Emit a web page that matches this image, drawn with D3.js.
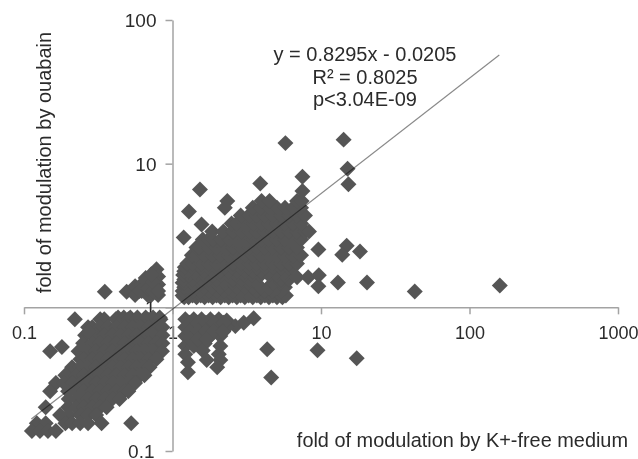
<!DOCTYPE html>
<html><head><meta charset="utf-8">
<script src="https://cdn.jsdelivr.net/npm/d3@7"></script>
<style>html,body{margin:0;background:#fff}svg{display:block;filter:blur(0.5px)}text{font-family:"Liberation Sans",Arial,sans-serif;fill:#2b2b2b}</style>
</head><body><div id="c"></div>
<script>
const xTicks=[0.1,1,10,100,1000];
const yTicks=[0.1,1,10,100];
const equationLines=["y = 0.8295x - 0.0205","R² = 0.8025","p<3.04E-09"];
const xTitle="fold of modulation by K+-free medium";
const yTitle="fold of modulation by ouabain";
const fitX=[0.112,158.7];
const fitY=[0.167,57.1];
// rows of the dense clouds: [fold by ouabain, [folds by K+-free medium]]
const upperRightRows=[
[1.175,[1.2,1.283,1.453,1.645,1.864,2.11,2.39,2.71,3.07,3.47,3.93,4.46,5.05,5.5]],
[1.21,[1.17,1.365,1.55,1.75,1.98,2.25,2.54,2.88,3.26,3.7,4.19,4.74,5.38,5.8]],
[1.3,[1.17,1.365,1.55,1.75,1.98,2.25,2.54,2.88,3.26,3.7,4.19,4.74,5.38]],
[1.38,[1.2,1.283,1.453,1.645,1.864,2.11,2.39,2.71,3.07,3.47,3.93,4.46,5.05,5.72]],
[1.48,[1.17,1.2,1.365,1.55,1.75,1.98,2.25,2.54,2.88,3.26,4.74,5.38]],
[1.565,[1.2,1.365,1.55,1.75,1.98,2.25,2.54,2.88,3.26,3.55,5.38,6.09]],
[1.68,[1.18,1.283,1.453,1.645,1.864,2.11,2.39,2.71,3.07,3.47,3.93,4.46,5.05,5.72]],
[1.78,[1.2,1.283,1.453,1.645,1.864,2.11,2.39,2.71,3.07,3.47,3.93,4.46,5.05,5.72]],
[1.9,[1.21,1.365,1.55,1.75,1.98,2.25,2.54,2.88,3.26,3.7,4.19,4.74,5.38,6.09,6.4]],
[2.02,[1.26,1.365,1.55,1.75,1.98,2.25,2.54,2.88,3.26,3.7,4.19,4.74,5.38,6.09,6.89]],
[2.3,[1.35,1.453,1.645,1.864,2.11,2.39,2.71,3.07,3.47,3.93,4.46,5.05,5.72,6.48,7.34]],
[2.61,[1.45,1.5,1.75,1.98,2.25,2.54,2.88,3.26,3.7,4.19,4.74,5.38,6.09,6.89]],
[2.97,[1.6,1.75,1.864,2.11,2.39,2.71,3.07,3.47,3.93,4.46,5.05,5.72,6.2,7.34]],
[3.37,[1.85,2.2,2.54,2.88,3.26,3.7,4.19,4.74,5.38,6.09,6.89,7.8,8.3]],
[3.83,[2.5,2.7,3.07,3.47,3.93,4.46,5.05,5.72,6.48,7.34]],
[4.35,[2.88,3.26,3.7,4.19,4.74,5.38,6.09,6.89,7.8]],
[4.94,[2.25,3.47,3.93,4.46,5.05,5.72,6.48,7.34]],
[5.5,[2.34,3.98,4.5,6.9,7.4]]
];
const lowerLeftRows=[
[0.85,[0.43,0.47,0.52,0.58,0.66,0.74,0.82]],
[0.825,[0.326,0.347,0.415,0.466,0.504,0.571,0.647,0.733,0.83]],
[0.726,[0.27,0.288,0.326,0.369,0.418,0.474,0.537,0.608,0.688,0.78,0.855]],
[0.639,[0.258,0.306,0.347,0.393,0.445,0.504,0.571,0.647,0.733,0.855]],
[0.562,[0.25,0.288,0.326,0.369,0.418,0.474,0.537,0.608,0.688,0.78,0.855]],
[0.495,[0.15,0.233,0.27,0.306,0.347,0.393,0.445,0.504,0.571,0.647,0.733,0.85]],
[0.436,[0.24,0.254,0.288,0.326,0.369,0.418,0.474,0.537,0.608,0.688,0.78]],
[0.383,[0.211,0.239,0.27,0.306,0.347,0.393,0.445,0.504,0.571,0.647,0.7]],
[0.337,[0.19,0.224,0.254,0.288,0.326,0.369,0.418,0.474,0.537,0.608,0.647]],
[0.297,[0.164,0.186,0.211,0.239,0.27,0.306,0.347,0.393,0.445,0.504,0.56]],
[0.261,[0.15,0.198,0.224,0.254,0.288,0.326,0.369,0.418,0.474,0.504]],
[0.23,[0.2,0.23,0.27,0.306,0.347,0.393,0.44]],
[0.202,[0.14,0.198,0.224,0.254,0.288,0.326,0.36]],
[0.178,[0.175,0.2,0.239,0.27,0.306]],
[0.156,[0.122,0.14,0.19,0.211,0.239,0.27,0.333,0.527]],
[0.138,[0.113,0.128,0.145,0.164]]
];
// separately read points
const scatterX=[0.35,0.491,0.56,0.56,0.62,0.68,0.66,0.72,0.78,0.8,0.8,0.8,0.72,0.6,0.62,0.68,0.74,0.74,0.8,0.72,
 0.22,0.18,0.275,
 1.22,1.39,1.57,1.8,2.05,2.32,2.65,3.02,3.52,1.22,1.39,1.57,1.8,2.05,2.32,1.22,1.39,1.57,1.8,2.1,1.22,1.39,1.65,2.1,1.22,1.6,2.05,1.27,1.7,2.1,1.27,2.0,4.34,4.62,9.47,17.4,
 1.3,1.48,1.68,1.9,2.2,1.3,1.48,1.68,1.9,2.2,1.3,1.48,1.7,
 5.76,14.2,15.1,15.3,3.9,7.5,1.53,1.29,1.19,1.57,7.5,14.9,18.3,13.9,9.6,6.9,8.2,9.67,9.6,13,20.4,42.8,160];
const scatterY=[1.285,1.285,1.4,1.22,1.45,1.22,1.6,1.4,1.84,1.64,1.44,1.22,1.22,1.3,1.3,1.35,1.3,1.5,1.3,1.7,
 0.825,0.53,0.68,
 0.825,0.825,0.825,0.825,0.825,0.81,0.74,0.78,0.84,0.726,0.726,0.726,0.726,0.726,0.726,0.632,0.632,0.632,0.632,0.632,0.538,0.538,0.56,0.538,0.472,0.5,0.472,0.414,0.43,0.43,0.353,0.383,0.51,0.325,0.503,0.442,
 0.78,0.78,0.78,0.78,0.78,0.68,0.68,0.68,0.68,0.68,0.6,0.6,0.6,
 13.9,14.7,9.2,7.2,7.27,8.1,6.6,4.64,3.06,3.77,6.46,2.68,2.45,2.32,2.53,1.62,1.62,1.67,1.4,1.49,1.49,1.29,1.42];

const W=638,H=459;
const x=d3.scaleLog().domain([0.1,1000]).range([24,618]);
const y=d3.scaleLog().domain([0.1,100]).range([451,20]);
const svg=d3.select("#c").append("svg").attr("width",W).attr("height",H);

const pts=[];
[upperRightRows,lowerLeftRows].forEach(rows=>rows.forEach(([v,xs])=>xs.forEach(u=>pts.push([u,v]))));
scatterX.forEach((u,i)=>pts.push([u,scatterY[i]]));

const grey="#a3a3a3";
const fmt=d=>String(d);
const ax=svg.append("g").attr("transform",`translate(0,${y(1)})`)
 .call(d3.axisBottom(x).tickValues(xTicks).tickFormat(fmt).tickSize(7).tickSizeOuter(0));
const ay=svg.append("g").attr("transform",`translate(${x(1)},0)`)
 .call(d3.axisLeft(y).tickValues(yTicks).tickFormat(fmt).tickSize(7).tickSizeOuter(0));
[ax,ay].forEach(g=>{g.selectAll("path,line").attr("stroke",grey).attr("stroke-width",1.5);});
ax.selectAll("text").attr("font-size",18).attr("y",19).attr("dy","0.71em");
ay.selectAll("text").attr("font-size",19).attr("x",-16).attr("dy","0.34em");
ay.selectAll("text").filter(d=>d===1).attr("x",-17);
ay.selectAll("text").filter(d=>d===0.1).attr("x",-18);

svg.append("g").selectAll("path").data(pts).join("path")
 .attr("d",d3.symbol(d3.symbolDiamond2,163))
 .attr("transform",d=>`translate(${x(d[0])},${y(d[1])})`)
 .attr("fill","#555555");

svg.append("path").datum(fitX.map((u,i)=>[u,fitY[i]]))
 .attr("d",d3.line().x(d=>x(d[0])).y(d=>y(d[1])))
 .attr("fill","none").attr("stroke","#8a8a8a").attr("stroke-width",1.2)
 .style("mix-blend-mode","multiply");

svg.append("g").selectAll("text").data(equationLines).join("text")
 .attr("x",365).attr("y",(d,i)=>61+i*22.5).attr("text-anchor","middle").attr("font-size",20).text(d=>d);
svg.append("text").attr("x",628).attr("y",447).attr("text-anchor","end").attr("font-size",19.9).text(xTitle);
svg.append("text").attr("transform","translate(51,162.5) rotate(-90)").attr("text-anchor","middle").attr("font-size",20).text(yTitle);
</script></body></html>
